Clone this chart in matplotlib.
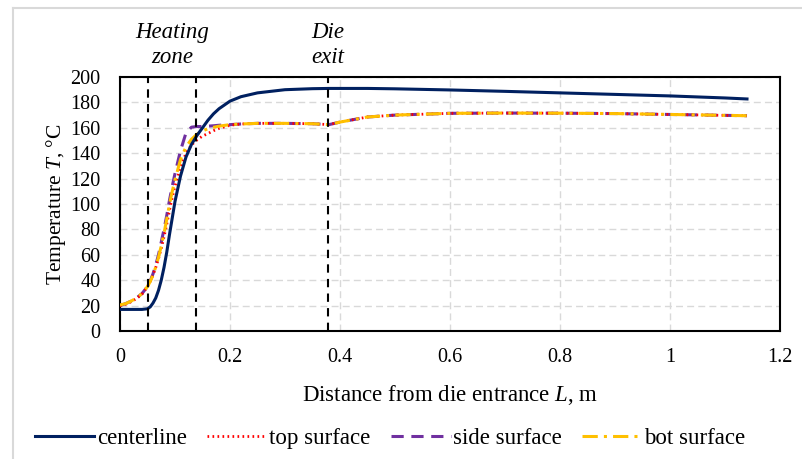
import matplotlib.pyplot as plt
from matplotlib.lines import Line2D
from matplotlib.transforms import blended_transform_factory

plt.rcParams["font.family"] = ["Liberation Serif", "DejaVu Serif"]
plt.rcParams["mathtext.fontset"] = "custom"
plt.rcParams["mathtext.it"] = "Liberation Serif:italic"
plt.rcParams["mathtext.rm"] = "Liberation Serif"

# distance from die entrance, m
x = [0, 0.01, 0.02, 0.03, 0.04, 0.05, 0.055, 0.06, 0.065, 0.07, 0.075, 0.08,
     0.085, 0.09, 0.095, 0.10, 0.11, 0.12, 0.13, 0.14, 0.15, 0.16, 0.17, 0.18,
     0.20, 0.22, 0.25, 0.30, 0.35, 0.38, 0.40, 0.45, 0.50, 0.60, 0.70, 0.80,
     0.90, 1.00, 1.10, 1.14]

centerline = [17, 17, 17, 17, 17, 17.5, 19, 22, 26, 32, 40, 50, 62, 76, 89,
              102, 122, 137, 147, 154, 160, 166, 171, 175, 181, 184.5, 187.5,
              190, 190.8, 191, 191, 191, 190.7, 189.8, 188.7, 187.5, 186.3,
              185.1, 183.5, 182.7]
top_surface = [20, 21, 23, 25.5, 29, 35, 39, 44, 50, 57, 65, 74, 84, 95, 105,
               114, 129, 140, 146.5, 150.5, 153.5, 155.5, 157.7, 159.5, 162,
               163, 163.5, 163.5, 163.2, 162.5, 164.5, 168.5, 170, 171.4,
               171.6, 171.5, 171.2, 170.5, 169.8, 169.5]
side_surface = [20, 21.5, 23.5, 26, 29.5, 35, 39.5, 45, 52, 60, 70, 80, 91,
                103, 114, 124, 142, 156, 160.5, 161, 161, 161.3, 161.6, 162,
                162.5, 163, 163.5, 163.5, 163.2, 162.5, 164.5, 168.5, 170,
                171.4, 171.6, 171.5, 171.2, 170.5, 169.8, 169.5]
bot_surface = [20.5, 21.5, 23.5, 26, 29.5, 35, 39, 44, 50.5, 58, 67, 77, 88,
               100, 110, 119, 135, 145, 151, 155, 157.5, 159.3, 160.4, 161.3,
               162.5, 163, 163.5, 163.5, 163.2, 162.5, 164.5, 168.5, 170,
               171.4, 171.6, 171.5, 171.2, 170.5, 169.8, 169.5]

marker_x = [0.051, 0.138, 0.378]
zone_labels = ["Heating\nzone", "Die\nexit"]
zone_label_x = [0.0945, 0.378]

fig = plt.figure(figsize=(8.03, 4.59), dpi=100)
ax = fig.add_axes([120 / 803, 1 - 331 / 459, 660 / 803, 254 / 459])

# chart-area border (only top and left visible in the crop)
fig.add_artist(Line2D([13 / 803, 1], [1 - 8 / 459, 1 - 8 / 459],
                      transform=fig.transFigure, color="#d9d9d9", lw=1.5))
fig.add_artist(Line2D([13 / 803, 13 / 803], [0, 1 - 8 / 459],
                      transform=fig.transFigure, color="#d9d9d9", lw=1.5))

ax.plot(x, centerline, color="#002060", lw=2.2, label="centerline", zorder=5)
ax.plot(x, top_surface, color="#ff0000", lw=2, ls=(0, (0.6, 1.2)),
        label="top surface", zorder=4)
ax.plot(x, side_surface, color="#7030a0", lw=2.2, ls=(0, (4, 2.5)),
        label="side surface", zorder=3)
ax.plot(x, bot_surface, color="#ffc000", lw=2.2, ls=(0, (5, 2, 1, 2)),
        label="bot surface", zorder=4)

for xv in marker_x:
    ax.axvline(xv, color="black", lw=1.5, ls=(0, (4, 3)), zorder=6)

trans = blended_transform_factory(ax.transData, fig.transFigure)
for lab, xv in zip(zone_labels, zone_label_x):
    ax.text(xv, 1 - 45 / 459, lab, transform=trans, ha="center", va="center",
            fontsize=16.5, style="italic", linespacing=1.25)

ax.set_xlim(0, 1.2)
ax.set_ylim(0, 200)
ax.set_xticks([0, 0.2, 0.4, 0.6, 0.8, 1.0, 1.2])
ax.set_xticklabels(["0", "0.2", "0.4", "0.6", "0.8", "1", "1.2"])
ax.set_yticks(range(0, 201, 20))
ax.tick_params(length=0, labelsize=14.5)
ax.tick_params(axis="x", pad=12)
ax.tick_params(axis="y", pad=14)
ax.grid(True, color="#d9d9d9", ls=(0, (5, 3)), lw=1)
ax.set_axisbelow(True)
for s in ax.spines.values():
    s.set_color("black")
    s.set_linewidth(1.5)

ax.set_xlabel("Distance from die entrance $\\mathit{L}$, m", fontsize=16.5,
              labelpad=12)
ax.set_ylabel("Temperature $\\mathit{T}$, °C", fontsize=15.5, labelpad=2)

fig.legend(loc="center", bbox_to_anchor=(390 / 803, 1 - 438 / 459), ncol=4,
           frameon=False, fontsize=16.5, handlelength=2.6, handletextpad=0.1,
           columnspacing=0.9)

fig.savefig("out.png", dpi=100)
